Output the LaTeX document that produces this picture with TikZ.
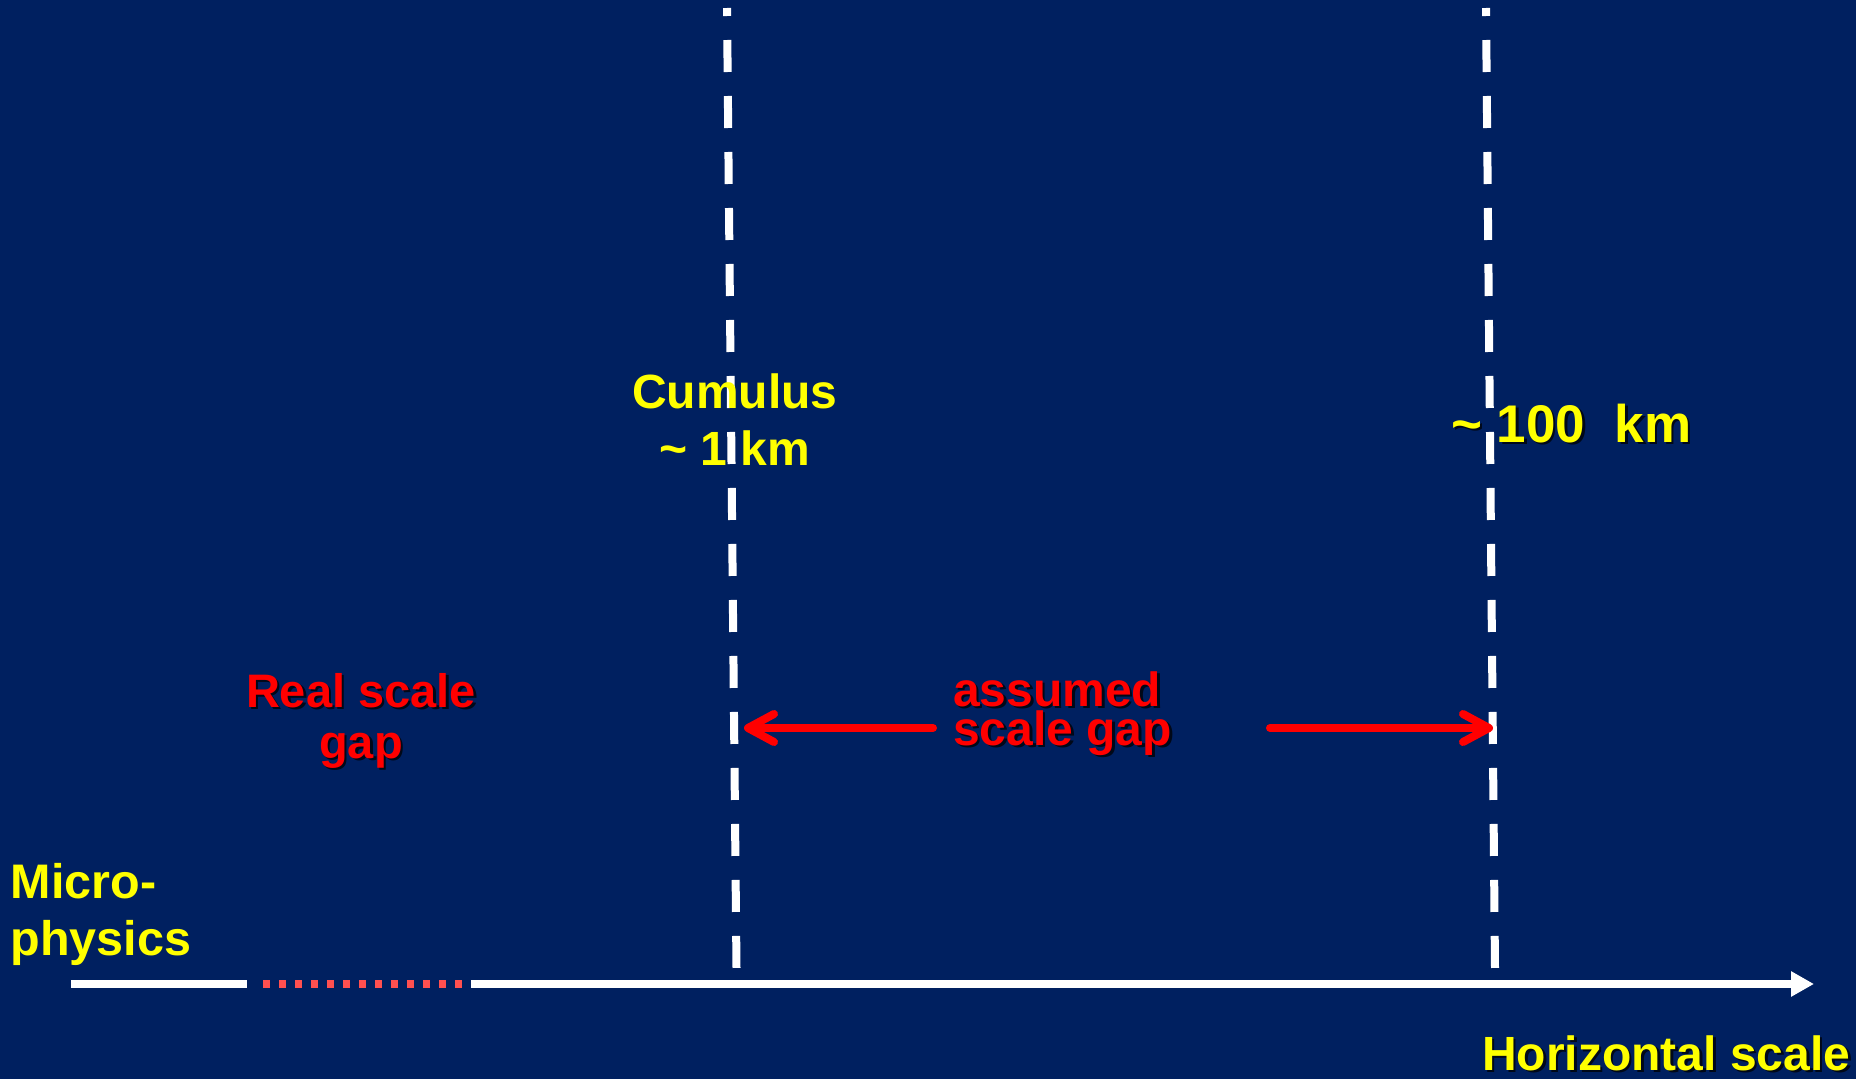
\documentclass[tikz,border=0pt]{standalone}
\usepackage{fontspec}
\setmainfont{Liberation Sans}
\usetikzlibrary{arrows.meta}

\definecolor{bgblue}{HTML}{002060}
\definecolor{labelyellow}{HTML}{FFFF00}
\definecolor{gapred}{HTML}{FF0000}
\definecolor{dotred}{HTML}{FF5050}
\definecolor{shadowc}{HTML}{000818}

% text with a dark drop shadow behind it
\newcommand\dropshadowed[1]{%
  \makebox[0pt][l]{\kern2.5pt\raisebox{-2.5pt}{\textcolor{shadowc}{#1}}}#1}

\begin{document}
\begin{tikzpicture}[x=1pt,y=-1pt,
  yellowlbl/.style={inner sep=0pt, text=labelyellow},
  redlbl/.style={inner sep=0pt, text=gapred},
  scaleline/.style={white, line width=8pt, dash pattern=on 32pt off 24pt, dash phase=24pt},
  gaparrow/.style={gapred, line width=8pt, line cap=round,
    -{Straight Barb[length=26pt,width=28pt,round]}},
  axisline/.style={white, line width=8pt},
  dotgap/.style={dotred, line width=8pt, dash pattern=on 7pt off 9pt},
]
% background
\fill[bgblue] (0,0) rectangle (1856,1079);
\useasboundingbox (0,0) rectangle (1856,1079);
\clip (0,0) rectangle (1856,1079);

% vertical scale markers (1 km and 100 km)
\coordinate (cuTop) at (727,8);
\coordinate (cuBot) at (736.5,968);
\coordinate (mesoTop) at (1486,8);
\coordinate (mesoBot) at (1495,968);
\draw[scaleline] (cuTop) -- (cuBot);
\draw[scaleline] (mesoTop) -- (mesoBot);

% horizontal scale axis with the real scale gap
\coordinate (axStart) at (71,984);
\coordinate (axGapL) at (247,984);
\coordinate (dotL) at (263,984);
\coordinate (dotR) at (463,984);
\coordinate (axGapR) at (471,984);
\coordinate (axEnd) at (1814,984);
\draw[axisline] (axStart) -- (axGapL);
\draw[dotgap] (dotL) -- (dotR);
\draw[axisline, -{Triangle[length=23pt,width=24pt]}] (axGapR) -- (axEnd);

% assumed scale gap arrows
\coordinate (gapArrowL) at (933,728);
\coordinate (gapTipL) at (744,728);
\coordinate (gapArrowR) at (1270,728);
\coordinate (gapTipR) at (1493,728);
\draw[gaparrow] (gapArrowL) -- (gapTipL);
\draw[gaparrow] (gapArrowR) -- (gapTipR);

% labels
\node[yellowlbl, anchor=base, font=\bfseries\fontsize{48}{48}\selectfont] (cumulus) at (735,408) {Cumulus};
\node[yellowlbl, anchor=base, font=\bfseries\fontsize{48}{48}\selectfont] (cukm) at (735,465) {\textasciitilde{} 1 km};
\node[yellowlbl, anchor=base west, font=\bfseries\fontsize{53}{53}\selectfont] (mesokm) at (1451,442) {\dropshadowed{\textasciitilde{} 100\ \ km}};
\node[yellowlbl, anchor=base west, font=\bfseries\fontsize{48.5}{48.5}\selectfont] (micro) at (10.5,898) {Micro-};
\node[yellowlbl, anchor=base west, font=\bfseries\fontsize{48.5}{48.5}\selectfont] (physics) at (10.5,955) {physics};
\node[yellowlbl, anchor=base west, font=\bfseries\fontsize{48}{48}\selectfont] (hscale) at (1482,1070) {\dropshadowed{Horizontal scale}};

\node[redlbl, anchor=base, font=\bfseries\fontsize{47}{47}\selectfont] (realgap1) at (361,707) {\dropshadowed{Real scale}};
\node[redlbl, anchor=base, font=\bfseries\fontsize{47}{47}\selectfont] (realgap2) at (361,758) {\dropshadowed{gap}};
\node[redlbl, anchor=base west, font=\bfseries\fontsize{48}{48}\selectfont] (assumed1) at (953,706) {\dropshadowed{assumed}};
\node[redlbl, anchor=base west, font=\bfseries\fontsize{48}{48}\selectfont] (assumed2) at (953,745) {\dropshadowed{scale gap}};
\end{tikzpicture}
\end{document}
